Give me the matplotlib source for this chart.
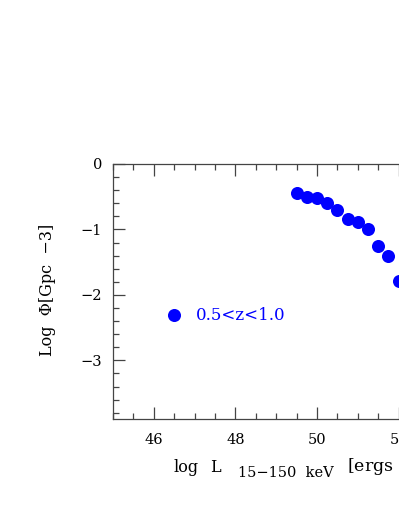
import numpy as np
import matplotlib.pyplot as plt
from matplotlib.ticker import MultipleLocator

# luminosity function points, 0.5<z<1.0
log_L = [49.5, 49.75, 50.0, 50.25, 50.5, 50.75, 51.0, 51.25, 51.5, 51.75, 52.0]
log_phi = [-0.45, -0.51, -0.52, -0.59, -0.70, -0.84, -0.89, -0.99, -1.25, -1.40, -1.79]

legend_x = [46.5]
legend_y = [-2.31]
legend_label = "0.5<z<1.0"

plt.rcParams['font.family'] = 'DejaVu Serif'
plt.rcParams['mathtext.fontset'] = 'dejavuserif'

W, H = 399, 516
fig = plt.figure(figsize=(W / 100, H / 100), dpi=100)
ax = fig.add_axes([0.2832, 0.1874, 1.0226, 0.4948])

ax.plot(log_L, log_phi, 'o', color='#0000ff', markersize=9.4, markeredgewidth=0)
ax.plot(legend_x, legend_y, 'o', color='#0000ff', markersize=9.4, markeredgewidth=0)
ax.text(47.02, legend_y[0], legend_label, color='#0000ff', fontsize=12, va='center', ha='left')

ax.set_xlim(45, 55)
ax.set_ylim(-3.9, 0)
ax.xaxis.set_major_locator(MultipleLocator(2))
ax.xaxis.set_minor_locator(MultipleLocator(0.5))
ax.yaxis.set_major_locator(MultipleLocator(1))
ax.yaxis.set_minor_locator(MultipleLocator(0.2))
ax.tick_params(which='both', direction='in', top=True, right=True, color='#444444', width=0.9)
ax.tick_params(which='major', length=8.5, labelsize=10.5)
ax.tick_params(axis='x', which='major', pad=10)
ax.tick_params(axis='y', which='major', pad=8)
ax.tick_params(which='minor', length=4.5)
ax.set_yticks([0, -1, -2, -3])
ax.set_yticklabels(['0', '\u22121', '\u22122', '\u22123'])
for s in ax.spines.values():
    s.set_color('#444444')
    s.set_linewidth(0.9)

fig.text(48 / W, 1 - 290 / H, 'Log  \u03a6[Gpc  \u22123]', rotation=90, fontsize=11.5,
         ha='center', va='center')

# x label assembled from pieces (main text + subscript)
fig.text(174 / W, 1 - 472 / H, 'log', fontsize=11.5, ha='left', va='baseline')
fig.text(210 / W, 1 - 472 / H, 'L', fontsize=11.5, ha='left', va='baseline')
fig.text(238 / W, 1 - 477 / H, '15\u2212150  keV', fontsize=10.5, ha='left', va='baseline')
fig.text(347 / W, 1 - 472 / H, '[ergs  s$^{-1}$]', fontsize=12.5, ha='left', va='baseline')

fig.savefig('out.png', dpi=100)
